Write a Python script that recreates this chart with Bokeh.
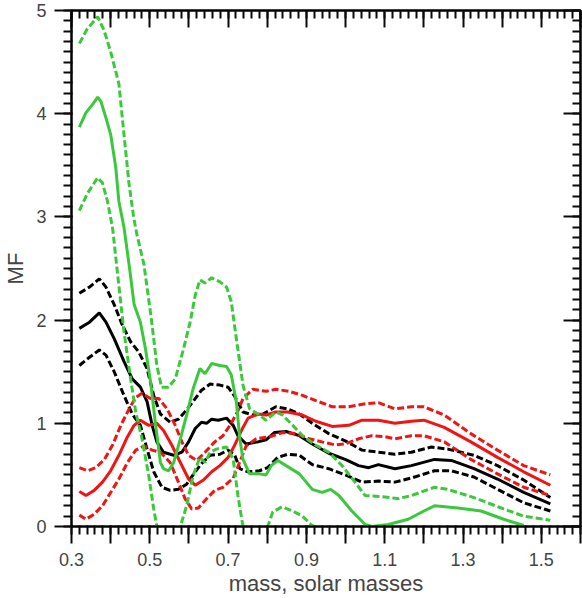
from bokeh.plotting import figure
from bokeh.models import Range1d, FixedTicker, LinearAxis, CustomJSTickFormatter
from bokeh.layouts import gridplot
from bokeh.embed import file_html
from bokeh.resources import INLINE

# ---------------- data ----------------
# black: solid (central) and dashed bounds
ks_x = [0.32, 0.346, 0.371, 0.388, 0.409, 0.434, 0.455, 0.476, 0.493, 0.506, 0.518, 0.535, 0.561, 0.582, 0.599, 0.616, 0.632, 0.645, 0.658, 0.675, 0.696, 0.713, 0.725, 0.746, 0.776, 0.797, 0.818, 0.848, 0.882, 0.915, 0.957, 0.999, 1.033, 1.059, 1.084, 1.126, 1.168, 1.227, 1.27, 1.328, 1.388, 1.455, 1.523]
ks_y = [1.92, 1.98, 2.07, 1.98, 1.82, 1.60, 1.43, 1.35, 1.21, 0.98, 0.82, 0.72, 0.69, 0.72, 0.82, 0.95, 1.01, 1.00, 1.04, 1.03, 1.05, 0.98, 0.88, 0.80, 0.82, 0.84, 0.91, 0.92, 0.88, 0.80, 0.71, 0.65, 0.59, 0.57, 0.60, 0.56, 0.59, 0.65, 0.64, 0.56, 0.46, 0.33, 0.22]

ku_x = [0.32, 0.346, 0.371, 0.388, 0.409, 0.43, 0.451, 0.472, 0.493, 0.51, 0.527, 0.552, 0.573, 0.594, 0.616, 0.632, 0.654, 0.679, 0.70, 0.717, 0.738, 0.763, 0.789, 0.822, 0.852, 0.882, 0.915, 0.957, 0.999, 1.042, 1.084, 1.126, 1.168, 1.219, 1.261, 1.328, 1.388, 1.455, 1.523]
ku_y = [2.26, 2.32, 2.40, 2.32, 2.15, 1.95, 1.79, 1.69, 1.53, 1.27, 1.09, 1.01, 1.04, 1.13, 1.24, 1.32, 1.38, 1.37, 1.35, 1.26, 1.11, 1.08, 1.09, 1.16, 1.14, 1.09, 1.00, 0.90, 0.83, 0.74, 0.72, 0.70, 0.72, 0.77, 0.75, 0.69, 0.59, 0.45, 0.28]

kl_x = [0.32, 0.346, 0.371, 0.388, 0.409, 0.434, 0.455, 0.476, 0.493, 0.51, 0.531, 0.552, 0.573, 0.594, 0.616, 0.632, 0.654, 0.679, 0.70, 0.717, 0.73, 0.751, 0.78, 0.801, 0.827, 0.852, 0.882, 0.915, 0.957, 0.999, 1.042, 1.084, 1.126, 1.168, 1.227, 1.27, 1.328, 1.388, 1.455, 1.523]
kl_y = [1.56, 1.64, 1.71, 1.66, 1.50, 1.27, 1.09, 0.98, 0.75, 0.53, 0.38, 0.35, 0.36, 0.41, 0.53, 0.61, 0.69, 0.70, 0.74, 0.69, 0.56, 0.53, 0.54, 0.57, 0.67, 0.70, 0.69, 0.60, 0.56, 0.50, 0.43, 0.44, 0.43, 0.47, 0.54, 0.54, 0.48, 0.36, 0.23, 0.15]

# red: solid (central) and dashed bounds
rs_x = [0.32, 0.337, 0.358, 0.379, 0.40, 0.421, 0.443, 0.46, 0.476, 0.497, 0.518, 0.535, 0.556, 0.578, 0.599, 0.616, 0.637, 0.658, 0.679, 0.70, 0.717, 0.738, 0.751, 0.776, 0.797, 0.822, 0.852, 0.89, 0.924, 0.966, 1.008, 1.042, 1.084, 1.126, 1.168, 1.20, 1.252, 1.32, 1.388, 1.455, 1.523]
rs_y = [0.34, 0.30, 0.35, 0.43, 0.54, 0.69, 0.87, 0.98, 1.03, 0.98, 1.00, 0.93, 0.79, 0.62, 0.46, 0.40, 0.45, 0.53, 0.59, 0.67, 0.79, 0.96, 1.05, 1.09, 1.08, 1.11, 1.11, 1.08, 1.02, 0.97, 0.98, 1.03, 1.03, 1.00, 1.02, 1.03, 0.96, 0.82, 0.67, 0.53, 0.40]

ru_x = [0.32, 0.341, 0.362, 0.384, 0.405, 0.426, 0.447, 0.464, 0.48, 0.502, 0.523, 0.544, 0.565, 0.582, 0.599, 0.62, 0.641, 0.666, 0.687, 0.708, 0.725, 0.738, 0.763, 0.797, 0.822, 0.856, 0.89, 0.924, 0.966, 1.008, 1.05, 1.084, 1.126, 1.168, 1.20, 1.252, 1.32, 1.388, 1.455, 1.523]
ru_y = [0.57, 0.54, 0.57, 0.65, 0.79, 0.98, 1.14, 1.25, 1.29, 1.24, 1.24, 1.14, 0.98, 0.82, 0.69, 0.64, 0.72, 0.82, 0.88, 1.00, 1.12, 1.24, 1.33, 1.31, 1.33, 1.31, 1.27, 1.22, 1.16, 1.16, 1.19, 1.20, 1.14, 1.16, 1.16, 1.08, 0.90, 0.74, 0.59, 0.50]

rl_x = [0.32, 0.337, 0.358, 0.379, 0.40, 0.421, 0.443, 0.464, 0.485, 0.506, 0.527, 0.552, 0.573, 0.59, 0.607, 0.624, 0.645, 0.666, 0.687, 0.713, 0.725, 0.746, 0.772, 0.806, 0.839, 0.873, 0.907, 0.94, 0.974, 0.999, 1.033, 1.067, 1.101, 1.126, 1.168, 1.20, 1.252, 1.32, 1.388, 1.455, 1.523]
rl_y = [0.11, 0.07, 0.12, 0.20, 0.33, 0.46, 0.62, 0.74, 0.78, 0.74, 0.72, 0.62, 0.43, 0.27, 0.17, 0.18, 0.27, 0.35, 0.38, 0.47, 0.58, 0.78, 0.85, 0.87, 0.91, 0.90, 0.85, 0.82, 0.79, 0.80, 0.85, 0.88, 0.87, 0.85, 0.88, 0.88, 0.82, 0.65, 0.51, 0.38, 0.30]

# green: solid (central) and dashed bounds
gs_x = [0.32, 0.337, 0.354, 0.367, 0.375, 0.388, 0.40, 0.413, 0.421, 0.434, 0.447, 0.46, 0.476, 0.489, 0.502, 0.514, 0.527, 0.535, 0.548, 0.561, 0.578, 0.594, 0.611, 0.628, 0.641, 0.658, 0.679, 0.696, 0.708, 0.721, 0.73, 0.738, 0.755, 0.78, 0.797, 0.81, 0.827, 0.848, 0.882, 0.915, 0.94, 0.962, 0.983, 1.016, 1.05, 1.067, 1.109, 1.16, 1.20, 1.227, 1.287, 1.346, 1.404, 1.455]
gs_y = [3.87, 4.01, 4.09, 4.16, 4.12, 3.96, 3.80, 3.48, 3.15, 2.90, 2.54, 2.15, 1.98, 1.72, 1.40, 1.01, 0.62, 0.56, 0.54, 0.62, 0.85, 1.08, 1.34, 1.53, 1.48, 1.58, 1.56, 1.55, 1.47, 1.21, 0.85, 0.65, 0.51, 0.51, 0.50, 0.59, 0.64, 0.59, 0.51, 0.36, 0.33, 0.36, 0.30, 0.15, 0.02, 0.0, 0.02, 0.07, 0.15, 0.20, 0.18, 0.15, 0.07, 0.01]

gu_x = [0.32, 0.34, 0.367, 0.383, 0.40, 0.421, 0.434, 0.447, 0.459, 0.467, 0.485, 0.505, 0.518, 0.53, 0.548, 0.565, 0.586, 0.603, 0.616, 0.628, 0.641, 0.658, 0.679, 0.696, 0.708, 0.721, 0.738, 0.755, 0.776, 0.797, 0.822, 0.839, 0.865, 0.89, 0.923, 0.957, 0.991, 1.024, 1.05, 1.092, 1.135, 1.168, 1.227, 1.261, 1.328, 1.404, 1.455, 1.523]
gu_y = [4.68, 4.82, 4.94, 4.81, 4.60, 4.29, 3.80, 3.32, 2.99, 2.83, 2.54, 1.98, 1.56, 1.35, 1.35, 1.43, 1.72, 1.98, 2.24, 2.39, 2.36, 2.41, 2.37, 2.32, 2.18, 1.82, 1.37, 1.14, 1.09, 1.03, 1.11, 1.08, 0.98, 0.88, 0.79, 0.72, 0.59, 0.43, 0.30, 0.29, 0.27, 0.30, 0.38, 0.36, 0.28, 0.17, 0.10, 0.06]

gl_x = [0.32, 0.341, 0.367, 0.379, 0.392, 0.405, 0.417, 0.434, 0.451, 0.464, 0.48, 0.497, 0.51, 0.518, 0.578, 0.594, 0.611, 0.628, 0.641, 0.654, 0.67, 0.696, 0.713, 0.725, 0.738, 0.801, 0.814, 0.837, 0.865, 0.89, 0.911, 0.92, 1.363]
gl_y = [3.06, 3.23, 3.38, 3.33, 3.15, 2.89, 2.47, 1.89, 1.43, 1.11, 0.85, 0.50, 0.17, 0.0, 0.0, 0.20, 0.50, 0.67, 0.62, 0.72, 0.75, 0.77, 0.65, 0.30, 0.0, 0.0, 0.14, 0.19, 0.15, 0.10, 0.02, 0.0, 0.0]

x_major = [0.3, 0.4, 0.5, 0.6, 0.7, 0.8, 0.9, 1.0, 1.1, 1.2, 1.3, 1.4, 1.5, 1.6]
x_minor = [round(0.3 + 0.02 * i, 2) for i in range(66)]
y_major = [0, 1, 2, 3, 4, 5]
y_minor = [round(0.1 * i, 1) for i in range(51)]

BLACK = "#000000"
RED = "#f01414"
GREEN = "#3cc83c"
TICK = "#0a0a0a"
FONT = "Liberation Sans"

p = figure(width=582, height=598, output_backend="svg", toolbar_location=None,
           x_range=Range1d(0.3, 1.6), y_range=Range1d(0, 5),
           min_border_left=67, min_border_right=2, min_border_top=10, min_border_bottom=5)
p.xgrid.visible = False
p.ygrid.visible = False
p.outline_line_color = "black"
p.outline_line_width = 2

xt = FixedTicker(ticks=x_major, minor_ticks=x_minor)
yt = FixedTicker(ticks=y_major, minor_ticks=y_minor)


def style(ax, inside):
    ax.axis_line_width = 2
    ax.major_tick_line_width = 2
    ax.minor_tick_line_width = 2
    ax.major_tick_line_color = TICK
    ax.minor_tick_line_color = TICK
    if inside:
        ax.major_tick_in = 17
        ax.major_tick_out = 0
        ax.minor_tick_in = 8
        ax.minor_tick_out = 0
        ax.major_label_text_font_size = "1px"
        ax.major_label_standoff = 0
        ax.axis_label_standoff = 0
    else:
        ax.major_tick_in = 1
        ax.major_tick_out = 17
        ax.minor_tick_in = 1
        ax.minor_tick_out = 8
        ax.major_label_text_font = FONT
        ax.major_label_text_font_size = "18px"
        ax.axis_label_text_font = FONT
        ax.axis_label_text_font_size = "22px"
        ax.axis_label_text_font_style = "normal"


xa = p.xaxis[0]
ya = p.yaxis[0]
xa.ticker = xt
ya.ticker = yt
xa.formatter = CustomJSTickFormatter(code="const k = Math.round(tick*10); return (k % 2 == 1) ? tick.toFixed(1) : '';")
ya.formatter = CustomJSTickFormatter(code="return Math.round(tick).toString();")
xa.axis_label = "mass, solar masses"
ya.axis_label = "MF"
style(xa, False)
style(ya, False)
xa.major_label_standoff = 9
xa.axis_label_standoff = 2
ya.major_label_standoff = 8
ya.axis_label_standoff = 5

blank = CustomJSTickFormatter(code="return '';")
top = LinearAxis(ticker=xt, formatter=blank)
style(top, True)
p.add_layout(top, "above")
right = LinearAxis(ticker=yt, formatter=blank)
style(right, True)
p.add_layout(right, "right")

W = 3
DASH = "7 3"
p.line(ku_x, ku_y, line_color=BLACK, line_width=W, line_dash=DASH)
p.line(kl_x, kl_y, line_color=BLACK, line_width=W, line_dash=DASH)
p.line(ks_x, ks_y, line_color=BLACK, line_width=W)
p.line(ru_x, ru_y, line_color=RED, line_width=W, line_dash=DASH)
p.line(rl_x, rl_y, line_color=RED, line_width=W, line_dash=DASH)
p.line(rs_x, rs_y, line_color=RED, line_width=W)
p.line(gu_x, gu_y, line_color=GREEN, line_width=W, line_dash=DASH)
p.line(gl_x, gl_y, line_color=GREEN, line_width=W, line_dash=DASH)
p.line(gs_x, gs_y, line_color=GREEN, line_width=W)

g = gridplot([[p]], toolbar_location=None)
open("out.html", "w").write(file_html(g, INLINE))
